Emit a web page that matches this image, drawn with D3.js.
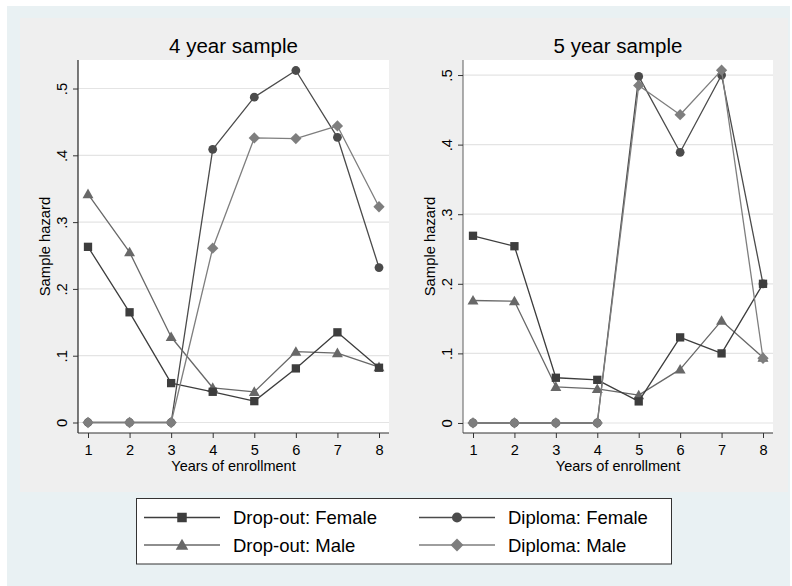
<!DOCTYPE html>
<html>
<head>
<meta charset="utf-8">
<script src="https://cdn.jsdelivr.net/npm/d3@7/dist/d3.min.js"></script>
<style>
    body { margin: 0; background: #fff; }
    text { font-family: "Liberation Sans", Arial, sans-serif; fill: #000; }
</style>
</head>
<body>
<script>
// hazard by years of enrollment, two samples side by side

const years = [1, 2, 3, 4, 5, 6, 7, 8];
const yTicks = [0, 0.1, 0.2, 0.3, 0.4, 0.5];
const yTickLabels = ['0', '.1', '.2', '.3', '.4', '.5'];
const panelTitles = ['4 year sample', '5 year sample'];
const seriesNames = ['Drop-out: Female', 'Diploma: Female', 'Drop-out: Male', 'Diploma: Male'];

// 4 year sample
const dropFemale4 = [0.263, 0.165, 0.059, 0.046, 0.032, 0.081, 0.135, 0.082];
const diplFemale4 = [0, 0, 0, 0.409, 0.487, 0.527, 0.427, 0.232];
const dropMale4 = [0.342, 0.255, 0.128, 0.052, 0.046, 0.106, 0.104, 0.083];
const diplMale4 = [0, 0, 0, 0.261, 0.426, 0.425, 0.444, 0.323];

// 5 year sample
const dropFemale5 = [0.269, 0.254, 0.065, 0.062, 0.031, 0.123, 0.100, 0.200];
const diplFemale5 = [0, 0, 0, 0, 0.498, 0.389, 0.500, 0.200];
const dropMale5 = [0.176, 0.175, 0.052, 0.049, 0.040, 0.077, 0.147, 0.094];
const diplMale5 = [0, 0, 0, 0, 0.485, 0.443, 0.507, 0.093];

// y ranges of the two plot regions
const yRange4 = [-0.0157, 0.5427];
const yRange5 = [-0.0144, 0.5216];

const colors = ['#3d3d3d', '#4b4b4b', '#686868', '#7e7e7e'];
const shapes = ['square', 'circle', 'triangle', 'diamond'];
// draw order: circles, triangles, squares, diamonds
const drawOrder = [1, 2, 0, 3];

const width = 792, height = 586;

let svg = d3.select('body').append('svg')
    .attr('width', width)
    .attr('height', height);

svg.append('rect').attr('x', 7).attr('y', 6).attr('width', 783).attr('height', 580).attr('fill', '#e9f1f3');
svg.append('rect').attr('x', 20).attr('y', 18).attr('width', 768).attr('height', 474).attr('fill', '#efefef');

function marker(g, shape, x, y, s, color) {
    if (shape === 'circle') {
        g.append('circle').attr('cx', x).attr('cy', y).attr('r', s * 0.53).attr('fill', color);
    } else if (shape === 'square') {
        g.append('rect').attr('x', x - s / 2).attr('y', y - s / 2).attr('width', s).attr('height', s).attr('fill', color);
    } else if (shape === 'triangle') {
        let h = s * 1.1;
        g.append('path')
            .attr('d', 'M' + x + ',' + (y - h * 0.6) + 'L' + (x + h * 0.6) + ',' + (y + h * 0.45) + 'L' + (x - h * 0.6) + ',' + (y + h * 0.45) + 'Z')
            .attr('fill', color);
    } else {
        let d = s * 0.68;
        g.append('path')
            .attr('d', 'M' + x + ',' + (y - d) + 'L' + (x + d) + ',' + y + 'L' + x + ',' + (y + d) + 'L' + (x - d) + ',' + y + 'Z')
            .attr('fill', color);
    }
}

function drawPanel(left, right, top, bottom, yDomain, title, series, axisColor) {
    let g = svg.append('g');

    let xScale = d3.scaleLinear().domain([1, 8]).range([left + 10, right - 10]);
    let yScale = d3.scaleLinear().domain(yDomain).range([bottom, top]);

    g.append('rect')
        .attr('x', left).attr('y', top)
        .attr('width', right - left).attr('height', bottom - top)
        .attr('fill', '#fff');

    // grid
    g.selectAll('line.grid')
        .data(yTicks)
        .enter()
        .append('line')
        .attr('x1', left).attr('x2', right)
        .attr('y1', d => yScale(d)).attr('y2', d => yScale(d))
        .attr('stroke', '#e4e4e4')
        .attr('stroke-width', 1.2);

    let yAxis = g.append('g')
        .attr('transform', 'translate(' + left + ',0)')
        .call(d3.axisLeft(yScale).tickValues(yTicks).tickFormat((d, i) => yTickLabels[i]).tickSize(5).tickPadding(7));
    yAxis.select('.domain').attr('d', 'M0,' + top + 'V' + bottom).attr('stroke', axisColor).attr('stroke-width', 1.2);
    yAxis.selectAll('.tick line').attr('stroke', '#333');
    yAxis.selectAll('.tick text')
        .attr('font-size', 14.8)
        .attr('x', 0).attr('dy', 0)
        .attr('text-anchor', 'middle')
        .attr('transform', 'translate(-11,0) rotate(-90)');

    let xAxis = g.append('g')
        .attr('transform', 'translate(0,' + bottom + ')')
        .call(d3.axisBottom(xScale).tickValues(years).tickFormat(d3.format('d')).tickSize(5).tickPadding(5));
    xAxis.select('.domain').attr('d', 'M' + left + ',0H' + right).attr('stroke', '#333').attr('stroke-width', 1.2);
    xAxis.selectAll('.tick line').attr('stroke', '#333');
    xAxis.selectAll('.tick text').attr('font-size', 14.6).attr('dy', 0).attr('y', 21.8);

    g.append('text')
        .text('Years of enrollment')
        .attr('x', (left + right) / 2)
        .attr('y', bottom + 37.8)
        .attr('text-anchor', 'middle')
        .attr('font-size', 14.5);

    g.append('text')
        .text('Sample hazard')
        .attr('text-anchor', 'middle')
        .attr('font-size', 14.8)
        .attr('transform', 'translate(' + (left - 28) + ',' + ((top + bottom) / 2) + ') rotate(-90)');

    g.append('text')
        .text(title)
        .attr('x', (left + right) / 2)
        .attr('y', top - 7)
        .attr('text-anchor', 'middle')
        .attr('font-size', 20.5);

    let line = d3.line()
        .x((d, i) => xScale(years[i]))
        .y(d => yScale(d));

    drawOrder.forEach(k => {
        g.append('path')
            .datum(series[k])
            .attr('fill', 'none')
            .attr('stroke', colors[k])
            .attr('stroke-width', 1.3)
            .attr('stroke-linejoin', 'round')
            .attr('d', line);
        series[k].forEach((v, i) => marker(g, shapes[k], xScale(years[i]), yScale(v), 8.3, colors[k]));
    });
}

drawPanel(78, 389, 60, 433, yRange4, panelTitles[0], [dropFemale4, diplFemale4, dropMale4, diplMale4], '#222');
drawPanel(463, 773, 60, 433, yRange5, panelTitles[1], [dropFemale5, diplFemale5, dropMale5, diplMale5], '#777');

// legend
let legend = svg.append('g');
legend.append('rect')
    .attr('x', 136.5).attr('y', 498.5)
    .attr('width', 535).attr('height', 65.5)
    .attr('fill', '#fff')
    .attr('stroke', '#333')
    .attr('stroke-width', 1);

let legendX = [144, 419];
let legendY = [517.5, 545];
seriesNames.forEach((name, k) => {
    let col = k % 2, row = Math.floor(k / 2);
    let x0 = legendX[col], y0 = legendY[row];
    legend.append('line')
        .attr('x1', x0).attr('x2', x0 + 76)
        .attr('y1', y0).attr('y2', y0)
        .attr('stroke', colors[k])
        .attr('stroke-width', 1.3);
    marker(legend, shapes[k], x0 + 38, y0, 9.5, colors[k]);
    legend.append('text')
        .text(name)
        .attr('x', x0 + 89)
        .attr('y', y0 + 6.5)
        .attr('font-size', 18.5);
});
</script>
</body>
</html>
